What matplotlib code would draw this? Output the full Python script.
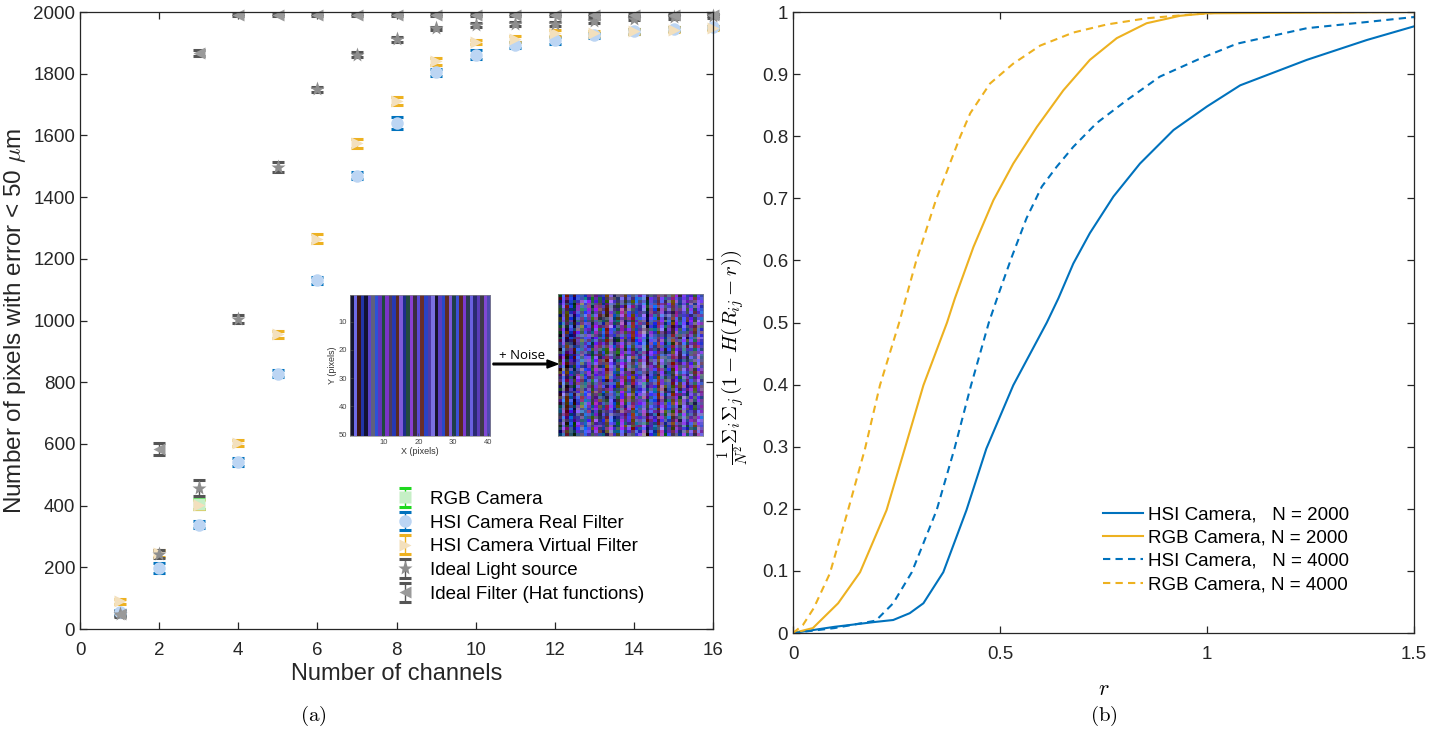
import numpy as np
import matplotlib
matplotlib.use("Agg")
import matplotlib.pyplot as plt
from matplotlib.colors import to_rgb

plt.rcParams['font.family'] = ['Liberation Sans', 'DejaVu Sans']
plt.rcParams['mathtext.fontset'] = 'cm'

# ---- panel (a): pixels with error < 50 um vs number of channels
channels = np.arange(1, 17)
rgb_x = [3]
rgb_y = [405]
rgb_err = [15]
hsi_real = [55, 198, 338, 542, 828, 1130, 1470, 1640, 1805, 1862, 1892, 1908, 1925, 1937, 1945, 1950]
hsi_real_err = [8, 15, 12, 12, 12, 10, 10, 20, 12, 15, 10, 10, 8, 8, 8, 6]
hsi_virtual = [90, 245, 403, 603, 955, 1265, 1575, 1712, 1840, 1903, 1913, 1931, 1932, 1937, 1943, 1948]
hsi_virtual_err = [8, 12, 15, 10, 12, 15, 15, 12, 12, 8, 10, 10, 8, 8, 8, 6]
ideal_light = [50, 243, 457, 1005, 1498, 1750, 1862, 1912, 1947, 1958, 1962, 1962, 1972, 1979, 1985, 1988]
ideal_light_err = [10, 12, 25, 12, 15, 8, 8, 8, 6, 6, 6, 6, 6, 6, 6, 6]
ideal_filter = [50, 583, 1866, 1990, 1990, 1990, 1990, 1990, 1990, 1990, 1990, 1990, 1990, 1990, 1990, 1990]
ideal_filter_err = [8, 20, 10, 4, 4, 4, 4, 4, 4, 4, 4, 4, 4, 4, 4, 4]

# ---- panel (b): fraction of pairs closer than r
hsi2000_r = [0, 0.1, 0.2, 0.242, 0.282, 0.315, 0.363, 0.419, 0.467, 0.532, 0.613, 0.641, 0.677, 0.717,
             0.774, 0.838, 0.919, 1.0, 1.08, 1.241, 1.386, 1.5]
hsi2000_y = [0, 0.01, 0.018, 0.021, 0.032, 0.048, 0.098, 0.198, 0.297, 0.399, 0.5, 0.539, 0.595, 0.644,
             0.703, 0.756, 0.81, 0.848, 0.882, 0.923, 0.955, 0.977]
rgb2000_r = [0, 0.048, 0.109, 0.162, 0.226, 0.27, 0.315, 0.372, 0.391, 0.436, 0.484, 0.532, 0.589, 0.653,
             0.717, 0.782, 0.854, 0.935, 1.0, 1.5]
rgb2000_y = [0, 0.008, 0.048, 0.098, 0.198, 0.297, 0.399, 0.5, 0.539, 0.622, 0.697, 0.756, 0.815, 0.874,
             0.923, 0.958, 0.982, 0.994, 0.998, 1.0]
hsi4000_r = [0, 0.1, 0.2, 0.242, 0.287, 0.347, 0.39, 0.43, 0.473, 0.496, 0.528, 0.564, 0.601, 0.637, 0.677,
             0.733, 0.806, 0.886, 0.983, 1.072, 1.241, 1.386, 1.5]
hsi4000_y = [0, 0.008, 0.02, 0.048, 0.098, 0.198, 0.297, 0.399, 0.5, 0.545, 0.605, 0.668, 0.719, 0.751, 0.783,
             0.821, 0.858, 0.896, 0.925, 0.949, 0.974, 0.984, 0.992]
rgb4000_r = [0, 0.024, 0.05, 0.089, 0.133, 0.174, 0.21, 0.256, 0.297, 0.345, 0.403, 0.428, 0.476, 0.532,
             0.597, 0.677, 0.758, 0.854, 0.959, 1.05, 1.5]
rgb4000_y = [0, 0.013, 0.04, 0.096, 0.198, 0.297, 0.399, 0.499, 0.598, 0.697, 0.798, 0.837, 0.885, 0.917,
             0.946, 0.967, 0.98, 0.99, 0.996, 1.0, 1.0]

# stripe colours of the inset image (one per column)
stripe_colors = ['#15152e', '#6f6ae6', '#3b1414', '#2234a8', '#121232', '#5c42c8', '#5f607e', '#2c52d6',
                 '#6234b8', '#1f4a3c', '#7a34c6', '#4c3c5e', '#2638b4', '#5a2a22', '#7e5ad8', '#1e2c8c',
                 '#234a40', '#8a40d0', '#3a2c40', '#5a4ad4', '#6a2e2a', '#2a42c4', '#4e3aa8', '#7a70e0',
                 '#16142a', '#5a3ec0', '#2848c8', '#602c24', '#7e58d8', '#1e3e4a', '#3c50d6', '#5a2a20',
                 '#7a3ad0', '#2c3a52', '#6a60e0', '#2a2a70', '#5a3cb8', '#3e3a4a', '#8048d4', '#4e4ab0']

BLUE = '#0072BD'
ORANGE = '#EDB120'
AXC = '#262626'

fig = plt.figure(figsize=(14.5, 7.31), dpi=100)

def matlab_axes(ax):
    ax.tick_params(direction='in', top=True, right=True, length=5, width=0.9,
                   colors=AXC, labelsize=13.5)
    ax.tick_params(axis='x', pad=9)
    for s in ax.spines.values():
        s.set_color(AXC)
        s.set_linewidth(0.9)

# ---------------- (a)
ax1 = fig.add_axes([0.0552, 0.1395, 0.4366, 0.844])
common = dict(linestyle='none', capsize=4, capthick=2.2, elinewidth=1.0, clip_on=False)
ax1.errorbar(rgb_x, rgb_y, yerr=rgb_err, marker='s', ms=8, mfc='#c6efc6', mec='none',
             color='#1ed81e', label='RGB Camera', **common)
ax1.errorbar(channels, hsi_real, yerr=hsi_real_err, marker='o', ms=9, mfc='#bcd5f3', mec='none',
             color=BLUE, label='HSI Camera Real Filter', **common)
ax1.errorbar(channels, hsi_virtual, yerr=hsi_virtual_err, marker='>', ms=9, mfc='#f3e0bd', mec='none',
             color=ORANGE, label='HSI Camera Virtual Filter', **common)
ax1.errorbar(channels, ideal_light, yerr=ideal_light_err, marker='*', ms=11, mfc='#8e8e8e', mec='none',
             color='#555555', label='Ideal Light source', **common)
ax1.errorbar(channels, ideal_filter, yerr=ideal_filter_err, marker='<', ms=9, mfc='#9a9a9a', mec='none',
             color='#555555', label='Ideal Filter (Hat functions)', **common)
ax1.set_xlim(0, 16)
ax1.set_ylim(0, 2000)
ax1.set_xticks(np.arange(0, 17, 2))
ax1.set_yticks(np.arange(0, 2001, 200))
matlab_axes(ax1)
ax1.set_xlabel('Number of channels', fontsize=17, color=AXC, labelpad=3)
ax1.set_ylabel(r'Number of pixels with error < 50 $\mu$m', fontsize=17.5, color=AXC, labelpad=4)
ax1.legend(loc='upper left', bbox_to_anchor=(0.499, 0.224), frameon=False, fontsize=13.5,
           handlelength=1.0, handletextpad=0.83, labelspacing=0.35, borderaxespad=0, borderpad=0)

# inset images
cols = np.array([to_rgb(c) for c in stripe_colors])
clean = np.tile(cols[None, :, :], (50, 1, 1))
ii, jj = np.meshgrid(np.arange(50), np.arange(40), indexing='ij')
noise = np.stack([np.modf(np.abs(np.sin(ii * 12.9898 + jj * 78.233 + k * 3.7)) * 43758.5453)[0]
                  for k in range(3)], axis=-1)
tint = np.array([0.75, 0.65, 1.0])
noisy = np.clip(0.85 * clean + 0.55 * (noise - 0.3) * tint, 0, 1)

axi = fig.add_axes([0.2414, 0.4036, 0.0966, 0.193])
axi.imshow(clean, aspect='auto', interpolation='nearest', extent=(0.5, 40.5, 50.5, 0.5))
axi.set_xticks([10, 20, 30, 40])
axi.set_yticks([10, 20, 30, 40, 50])
axi.tick_params(direction='in', labelsize=5.5, length=2, width=0.5, colors='#444444', pad=2)
axi.set_xlabel('X (pixels)', fontsize=6.5, labelpad=1, color='#333333')
axi.set_ylabel('Y (pixels)', fontsize=6.5, labelpad=1, color='#333333')
for s in axi.spines.values():
    s.set_linewidth(0.5)
    s.set_color('#888888')

axn = fig.add_axes([0.3845, 0.4036, 0.1, 0.194])
axn.imshow(noisy, aspect='auto', interpolation='nearest')
axn.set_xticks([])
axn.set_yticks([])
for s in axn.spines.values():
    s.set_linewidth(0.5)
    s.set_color('#888888')

fig.patches.append(matplotlib.patches.FancyArrow(493 / 1450, 1 - 364 / 731, 54 / 1450, 0,
                                                 width=0.0022, head_width=0.011, head_length=0.0075,
                                                 length_includes_head=False, color='black',
                                                 transform=fig.transFigure))
fig.text(522 / 1450, 1 - 362 / 731, '+ Noise', fontsize=9.5, ha='center', va='bottom',
         family=['Open Sans', 'DejaVu Sans'])

# ---------------- (b)
ax2 = fig.add_axes([0.5469, 0.134, 0.4283, 0.8495])
ax2.plot(hsi2000_r, hsi2000_y, color=BLUE, lw=1.5, label='HSI Camera,   N = 2000')
ax2.plot(rgb2000_r, rgb2000_y, color=ORANGE, lw=1.5, label='RGB Camera, N = 2000')
ax2.plot(hsi4000_r, hsi4000_y, color=BLUE, lw=1.5, ls=(0, (3.5, 2.5)), label='HSI Camera,   N = 4000')
ax2.plot(rgb4000_r, rgb4000_y, color=ORANGE, lw=1.5, ls=(0, (3.5, 2.5)), label='RGB Camera, N = 4000')
ax2.set_xlim(0, 1.5)
ax2.set_ylim(0, 1)
ax2.set_xticks([0, 0.5, 1, 1.5])
ax2.set_xticklabels(['0', '0.5', '1', '1.5'])
ax2.set_yticks(np.arange(0, 1.01, 0.1))
ax2.set_yticklabels(['0'] + ['%.1f' % v for v in np.arange(0.1, 0.95, 0.1)] + ['1'])
matlab_axes(ax2)
ax2.set_xlabel(r'$r$', fontsize=16, labelpad=12)
ax2.set_ylabel(r'$\frac{1}{N^2}\Sigma_i\Sigma_j\,(1-H(R_{ij}-r))$', fontsize=15)
ax2.yaxis.set_label_coords(-0.066, 0.444)
ax2.legend(loc='upper left', bbox_to_anchor=(0.499, 0.2045), frameon=False, fontsize=13.5,
           handlelength=2.13, handletextpad=0.27, labelspacing=0.33, borderaxespad=0, borderpad=0)

fig.text(313 / 1450, 1 - 716 / 731, r'$\mathrm{(a)}$', fontsize=15, ha='center', va='center')
fig.text(1104 / 1450, 1 - 716 / 731, r'$\mathrm{(b)}$', fontsize=15, ha='center', va='center')

fig.savefig('out.png', dpi=100)
